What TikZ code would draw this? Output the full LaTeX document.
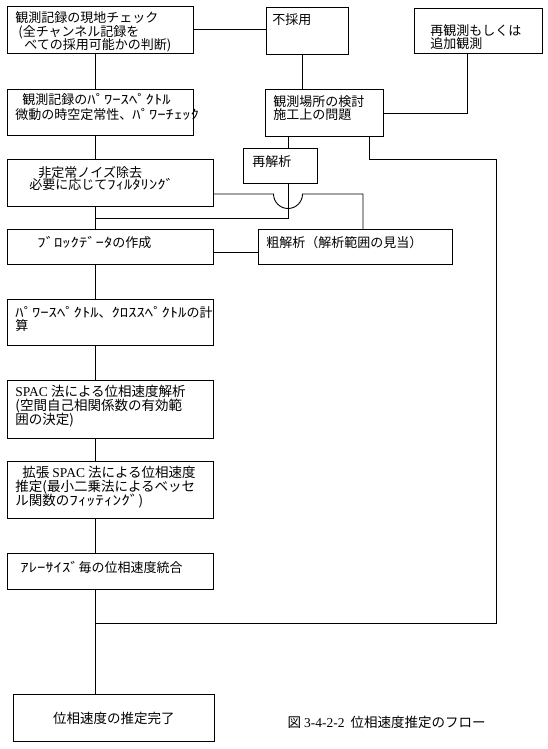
\documentclass[tikz,border=0pt]{standalone}
\usepackage{graphicx}
\usepackage{fontspec}
\setmainfont{Liberation Serif}
\newfontfamily\jp{Noto Sans CJK JP}

\tikzset{
  flow/.style={draw, line width=0.9pt, anchor=north west, inner sep=0pt,
    font=\jp\fontsize{13}{13.5}\selectfont},
  link/.style={line width=0.9pt}
}
% text block of a box: width, height, top pad, left pad, lines
\newcommand{\fbtext}[5]{\parbox[t][#2pt][t]{#1pt}{\lineskiplimit=-20pt\leftskip=#4pt\relax\vspace*{#3pt}#5}}
% half-width kana, a little wider
\newcommand{\hw}[1]{\scalebox{1.28}[1]{#1}}

\begin{document}
\begin{tikzpicture}[x=1pt,y=-1pt]
  \useasboundingbox (0,0) rectangle (548,749);
  % main column
  \node[flow] (b1) at (7,6) {\fbtext{186}{47}{5.5}{8}{観測記録の現地チェック\\\hspace*{3pt}(全チャンネル記録を\\\hspace*{9pt}べての採用可能かの判断)}};
  \node[flow] (b2) at (7,89) {\fbtext{186}{46}{3.5}{8}{\fontsize{13}{15}\selectfont\hspace*{7pt}観測記録の\hw{ﾊﾟﾜｰｽﾍﾟｸﾄﾙ}\\微動の時空定常性、\hw{ﾊﾟﾜｰﾁｪｯｸ}}};
  \node[flow] (b3) at (7,159) {\fbtext{206}{47}{7}{22}{\fontsize{13}{12.5}\selectfont\hspace*{9pt}非定常ノイズ除去\\必要に応じて\hw{ﾌｨﾙﾀﾘﾝｸﾞ}}};
  \node[flow] (b4) at (7,229) {\fbtext{206}{35}{6.5}{30}{\hw{ﾌﾞﾛｯｸﾃﾞｰﾀ}の作成}};
  \node[flow] (b5) at (7,299) {\fbtext{206}{46}{7}{8}{\fontsize{13}{12.5}\selectfont\hw{ﾊﾟﾜｰｽﾍﾟｸﾄﾙ}、\hw{ｸﾛｽｽﾍﾟｸﾄﾙ}の計\\算}};
  \node[flow] (b6) at (7,380) {\fbtext{206}{58}{5}{8}{\fontsize{13.5}{14}\selectfont{\rmfamily SPAC}~法による位相速度解析\\(空間自己相関係数の有効範\\囲の決定)}};
  \node[flow] (b7) at (7,461) {\fbtext{206}{57}{4.5}{8}{\fontsize{13.5}{14}\selectfont\hspace*{7pt}拡張~{\rmfamily SPAC}~法による位相速度\\推定(最小二乗法によるベッセ\\ル関数の\hw{ﾌｨｯﾃｨﾝｸﾞ})}};
  \node[flow] (b8) at (7,553) {\fbtext{206}{36}{7.5}{13}{\hw{ｱﾚｰｻｲｽﾞ}毎の位相速度統合}};
  \node[flow, minimum width=201pt, minimum height=47pt, font=\jp\fontsize{13.5}{14}\selectfont] (b9) at (13,694) {位相速度の推定完了};
  % side boxes
  \node[flow] (n1) at (266,7) {\fbtext{82}{47}{6.5}{6}{不採用}};
  \node[flow] (n2) at (414,8) {\fbtext{128}{45}{16.5}{16}{\fontsize{13}{12.5}\selectfont 再観測もしくは\\追加観測}};
  \node[flow] (n3) at (265,89) {\fbtext{118}{47}{6.5}{8}{\fontsize{13}{13}\selectfont 観測場所の検討\\施工上の問題}};
  \node[flow] (n4) at (243,148) {\fbtext{74}{35}{7.5}{9}{再解析}};
  \node[flow] (n5) at (258,229) {\fbtext{194}{35}{6.5}{8}{粗解析（解析範囲の見当）}};
  \node[anchor=west, font=\jp\fontsize{13.5}{14}\selectfont] (cap) at (284,722) {図 {\rmfamily 3-4-2-2}\hspace{6pt}位相速度推定のフロー};

  % trunk
  \coordinate (trunk) at (95,0);
  \foreach \a/\b in {b1/b2,b2/b3,b3/b4,b4/b5,b5/b6,b6/b7,b7/b8,b8/b9}
    \draw[link] (\a.south -| trunk) -- (\b.north -| trunk);

  % rejected records
  \draw[link] (b1.east) -- (b1.east -| n1.west);
  \coordinate (j0) at (302,0);
  \draw[link] (n1.south -| j0) -- (n3.north -| j0);
  \coordinate (j2) at (467,113);
  \draw[link] (n2.south -| j2) -- (j2) -- (j2 -| n3.east);
  % re-analysis
  \coordinate (j1) at (288,218);
  \draw[link] (n3.south -| j1) -- (n4.north -| j1);
  \draw[link] (n4.south -| j1) -- (j1) -- (trunk |- j1);
  % rough analysis, hop over
  \coordinate (h0) at (273.5,194);
  \coordinate (h1) at (363,194);
  \draw[link] (b3.east |- h0) -- (h0) arc[start angle=180, end angle=0, radius=14.5] -- (h1) -- (h1 |- n5.north);
  \coordinate (k1) at (0,252);
  \draw[link] (b4.east |- k1) -- (k1 -| n5.west);
  % back to trunk
  \coordinate (r1) at (369,159);
  \coordinate (r2) at (496,623);
  \draw[link] (n3.south -| r1) -- (r1) -| (r2) -- (trunk |- r2);
\end{tikzpicture}
\end{document}
